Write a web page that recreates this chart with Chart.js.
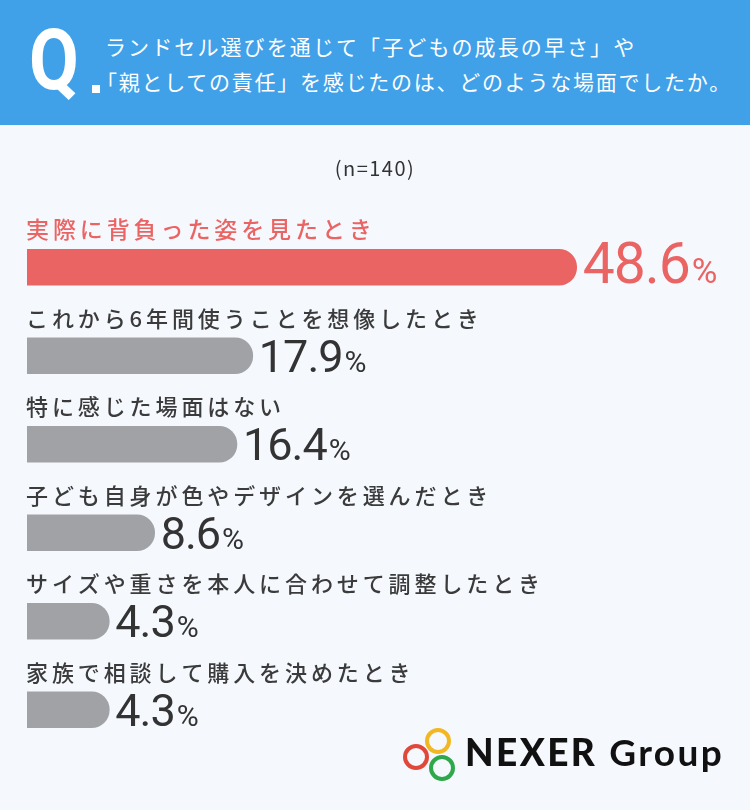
<!DOCTYPE html>
<html lang="ja">
<head>
<meta charset="utf-8">
<script src="https://cdn.jsdelivr.net/npm/chart.js@4.4.1/dist/chart.umd.min.js"></script>
<style>
  html, body { margin: 0; padding: 0; }
  body {
    width: 750px; height: 810px; overflow: hidden; position: relative;
    background: #f5f9fe; font-family: "Noto Sans CJK JP", sans-serif;
  }
  #chart { position: absolute; left: 0; top: 0; }
  #head { position: absolute; left: 0; top: 0; width: 750px; height: 125px; background: #40a1e9; }
  #q {
    position: absolute; left: 29px; top: 17px; color: #fff;
    font: bold 86px/1 Roboto; transform: scaleX(0.84); transform-origin: left top;
  }
  #dot { position: absolute; left: 92px; top: 85px; width: 8px; height: 8px; background: #fff; }
  .ql {
    position: absolute; color: #fff; font-size: 21px; line-height: 35px;
    white-space: nowrap;
  }
  #n {
    position: absolute; left: 0; width: 750px; top: 153px; text-align: center;
    font-size: 20px; line-height: 30px; letter-spacing: 1.5px; color: #333;
  }
  .ring {
    position: absolute; width: 26px; height: 26px; box-sizing: border-box;
    border: 4px solid; border-radius: 50%;
  }
  #brand {
    position: absolute; left: 465px; top: 734px; font: 37px/36px Lato;
    letter-spacing: 2.4px; color: #111; white-space: nowrap;
  }
  #brand b { font-weight: 900; }
  #brand span { font-weight: 700; }
</style>
</head>
<body>
<canvas id="chart" width="750" height="810"></canvas>

<div id="head"></div>
<div id="q">Q</div>
<div id="dot"></div>
<div class="ql" style="left:105px; top:29px; letter-spacing:2.1px;">ランドセル選びを通じて「子どもの成長の早さ」や</div>
<div class="ql" style="left:96px; top:64px; letter-spacing:1.75px;">「親としての責任」を感じたのは、どのような場面でしたか。</div>
<div id="n">(n=140)</div>

<div class="ring" style="left:403px; top:744px; border-color:#e2483a;"></div>
<div class="ring" style="left:425px; top:728px; border-color:#f2b823;"></div>
<div class="ring" style="left:429px; top:755px; border-color:#2ea84a;"></div>
<div id="brand"><b>NEXER</b> <span>Group</span></div>

<script>
// answers, top to bottom
const categories = [
  '実際に背負った姿を見たとき',
  'これから6年間使うことを想像したとき',
  '特に感じた場面はない',
  '子ども自身が色やデザインを選んだとき',
  'サイズや重さを本人に合わせて調整したとき',
  '家族で相談して購入を決めたとき'
];
const values = [48.6, 17.9, 16.4, 8.6, 4.3, 4.3];
const barColors = ['#eb6464', '#a1a2a6', '#a1a2a6', '#a1a2a6', '#a1a2a6', '#a1a2a6'];

// the first row is highlighted in red
const rowLabels = {
  id: 'rowLabels',
  afterDatasetsDraw(chart) {
    const ctx = chart.ctx;
    const meta = chart.getDatasetMeta(0);
    meta.data.forEach((bar, i) => {
      const first = i === 0;
      ctx.save();
      ctx.textBaseline = 'alphabetic';
      ctx.textAlign = 'left';

      // answer text above the bar
      ctx.fillStyle = first ? '#eb6464' : '#3b3b3b';
      ctx.font = (first ? '500 23px' : '500 22px') + ' "Noto Sans CJK JP"';
      ctx.letterSpacing = '3.9px';
      ctx.fillText(categories[i], chart.chartArea.left - 1, bar.y - 29);

      // percentage after the bar end
      const txt = values[i].toFixed(1);
      const x0 = bar.x + 6;
      const base = bar.y + 16;
      ctx.fillStyle = first ? '#eb6464' : '#333333';
      ctx.font = (first ? 57 : 45) + 'px Roboto';
      ctx.letterSpacing = '-1px';
      ctx.fillText(txt, x0, base);
      const w = ctx.measureText(txt).width;
      ctx.font = (first ? 35 : 30) + 'px Roboto';
      ctx.letterSpacing = '0px';
      ctx.fillText('%', x0 + w + 2, base);
      ctx.restore();
    });
  }
};

const ctx = document.getElementById('chart').getContext('2d');
new Chart(ctx, {
  type: 'bar',
  data: {
    labels: categories,
    datasets: [{
      data: values,
      base: -3.5,
      backgroundColor: barColors,
      borderWidth: 0,
      borderSkipped: 'start',
      borderRadius: 18,
      barThickness: 36
    }]
  },
  options: {
    indexAxis: 'y',
    responsive: false,
    animation: false,
    layout: { padding: { left: 27, right: 53, top: 223, bottom: 56 } },
    scales: {
      x: { type: 'linear', min: -3.5, max: 60, display: false },
      y: { type: 'category', display: false }
    },
    plugins: {
      legend: { display: false },
      tooltip: { enabled: false }
    }
  },
  plugins: [rowLabels]
});
</script>
</body>
</html>
